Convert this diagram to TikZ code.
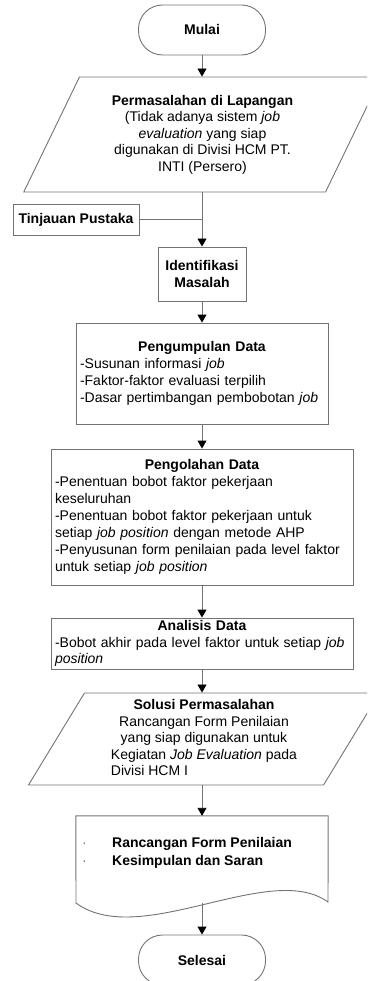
\documentclass[tikz,border=0pt]{standalone}
\usepackage{fontspec}
\setmainfont{Liberation Sans}
\usetikzlibrary{shapes.geometric, arrows.meta}

\definecolor{garis}{RGB}{115,115,115}

\begin{document}
\begin{tikzpicture}[x=1pt, y=-1pt, font=\fontsize{14}{17}\selectfont,
  term/.style={draw=garis, line width=0.9pt, rectangle, rounded corners=24pt, minimum width=127pt, minimum height=50pt},
  io/.style={draw=garis, line width=0.9pt, trapezium, trapezium stretches=true, align=center, font=\fontsize{14}{16.5}\selectfont},
  proc/.style={draw=garis, line width=0.9pt, rectangle, inner sep=4pt},
  n/.style={-{Triangle[width=9pt, length=8pt, color=black]}, draw=garis, line width=0.9pt},
  link/.style={draw=garis, line width=0.9pt}]
  \useasboundingbox (0,0) rectangle (367,981);
  \clip (0,0) rectangle (367,981);
  % nodes
  \node[term] (mulai) at (202,30) {\textbf{Mulai}};
  \node[io, trapezium left angle=63.6, trapezium right angle=116.4, minimum width=359pt, minimum height=115pt] (masalah) at (202.5,134.5) {\textbf{Permasalahan di Lapangan}\\(Tidak adanya sistem \textit{job}\\\textit{evaluation} yang siap\\digunakan di Divisi HCM PT.\\INTI (Persero)};
  \node[proc, minimum width=126pt, minimum height=31pt] (tinjauan) at (76,219.5) {\textbf{Tinjauan Pustaka}};
  \node[proc, minimum width=88pt, minimum height=54pt, align=center] (identifikasi) at (202,274) {\textbf{Identifikasi}\\\textbf{Masalah}};
  \node[proc, text width=244pt, minimum height=101pt, align=left] (kumpul) at (202,373.5) {\hfill\textbf{Pengumpulan Data}\hfill\null\\-Susunan informasi \textit{job}\\-Faktor-faktor evaluasi terpilih\\-Dasar pertimbangan pembobotan \textit{job}};
  \node[proc, text width=294pt, minimum height=136pt, align=left] (olah) at (202,517) {\hfill\textbf{Pengolahan Data}\hfill\null\\-Penentuan bobot faktor pekerjaan\\keseluruhan\\-Penentuan bobot faktor pekerjaan untuk\\setiap \textit{job position} dengan metode AHP\\-Penyusunan form penilaian pada level faktor\\untuk setiap \textit{job position}};
  \node[proc, text width=294pt, minimum height=51pt, inner ysep=1pt, align=left, font=\fontsize{14}{16.5}\selectfont] (analisis) at (202,643.5) {\hfill\textbf{Analisis Data}\hfill\null\\-Bobot akhir pada level faktor untuk setiap \textit{job}\\\textit{position}};
  \node[io, trapezium left angle=61.5, trapezium right angle=118.5, minimum width=352pt, minimum height=92pt, inner ysep=2pt] (solusi) at (204,739) {\textbf{Solusi Permasalahan}\\Rancangan Form Penilaian\\yang siap digunakan untuk\\Kegiatan \textit{Job Evaluation} pada\\\rlap{Divisi HCM I}\phantom{Kegiatan \textit{Job Evaluation} pada}};
  \node[minimum width=252pt, minimum height=87pt, inner sep=0pt] (dok) at (202,859.5) {};
  \node[anchor=west, inner sep=0pt, align=left, font=\fontsize{14}{18}\selectfont] (isidok) at (82,853) {\makebox[30pt][l]{\color{garis}·}\textbf{Rancangan Form Penilaian}\\\makebox[30pt][l]{\color{garis}·}\textbf{Kesimpulan dan Saran}};
  \node[term] (selesai) at (202,960) {\textbf{Selesai}};
  % document outline
  \draw[link] (dok.north west) -- (dok.north east) -- (328,902) .. controls (270,860) and (140,950) .. (76,903) -- cycle;
  % edges
  \draw[n] (mulai) -- (mulai |- masalah.north);
  \draw[n] (identifikasi |- masalah.south) -- (identifikasi);
  \draw[link] (tinjauan) -- (tinjauan -| identifikasi);
  \draw[n] (identifikasi) -- (kumpul);
  \draw[n] (kumpul) -- (olah);
  \draw[n] (olah) -- (analisis);
  \draw[n] (analisis) -- (analisis |- solusi.north);
  \draw[n] (dok |- solusi.south) -- (dok.north);
  \draw[n] (dok.south) -- (selesai);
\end{tikzpicture}
\end{document}
